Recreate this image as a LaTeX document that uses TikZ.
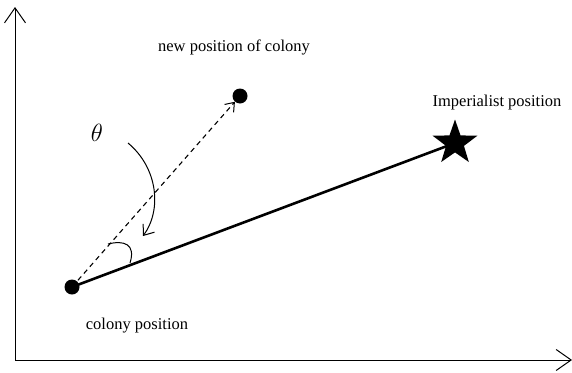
\documentclass[tikz,border=0pt]{standalone}
\usepackage{fontspec}
\setmainfont{Liberation Serif}
\usetikzlibrary{arrows.meta,shapes.geometric}
\tikzset{
  axis/.style={line width=1pt,-{Straight Barb[length=15pt,width=21pt,line width=1pt]}},
  dotnode/.style={circle,fill=black,inner sep=0pt,minimum size=15pt},
  lbl/.style={font=\fontsize{16.5}{18}\selectfont,inner sep=0pt},
  starnode/.style={star,star points=5,star point ratio=2.5,fill=black,inner sep=0pt,minimum size=47pt},
}
\begin{document}
\begin{tikzpicture}[x=1pt,y=-1pt]
\useasboundingbox (0,0) rectangle (572,372);
\coordinate (origin) at (15,360);
\coordinate (ytop) at (15,7);
\coordinate (xend) at (572,360);
\draw[axis] (origin) -- (ytop);
\draw[axis] (origin) -- (xend);
\node[dotnode] (col) at (72,287) {};
\node[dotnode] (newp) at (240,96) {};
\node[starnode] (imp) at (455,143) {};
\draw[line width=2.6pt] (col.center) -- (imp.center);
\draw[line width=1.1pt,dashed,dash pattern=on 5pt off 4pt,-{Straight Barb[length=8pt,width=12pt,line width=1pt]}] (col.center) -- (newp);
\node[lbl] (lnew) at (234,47) {new position of colony};
\node[lbl] (limp) at (497,103) {Imperialist position};
\node[lbl] (lcol) at (137,326) {colony position};
\node[inner sep=0pt,font=\fontsize{23}{25}\selectfont] (th) at (97,133) {$\theta$};
\coordinate (ca) at (128,143);
\coordinate (cb) at (143,236);
\draw[line width=1pt,-{Straight Barb[length=9pt,width=14pt,line width=1pt]}] (ca) .. controls (158,168) and (162,210) .. (cb);
\coordinate (aa) at (108,244);
\coordinate (ab) at (130,263);
\draw[line width=1pt] (aa) .. controls (124,240) and (136,244) .. (ab);
\end{tikzpicture}
\end{document}
